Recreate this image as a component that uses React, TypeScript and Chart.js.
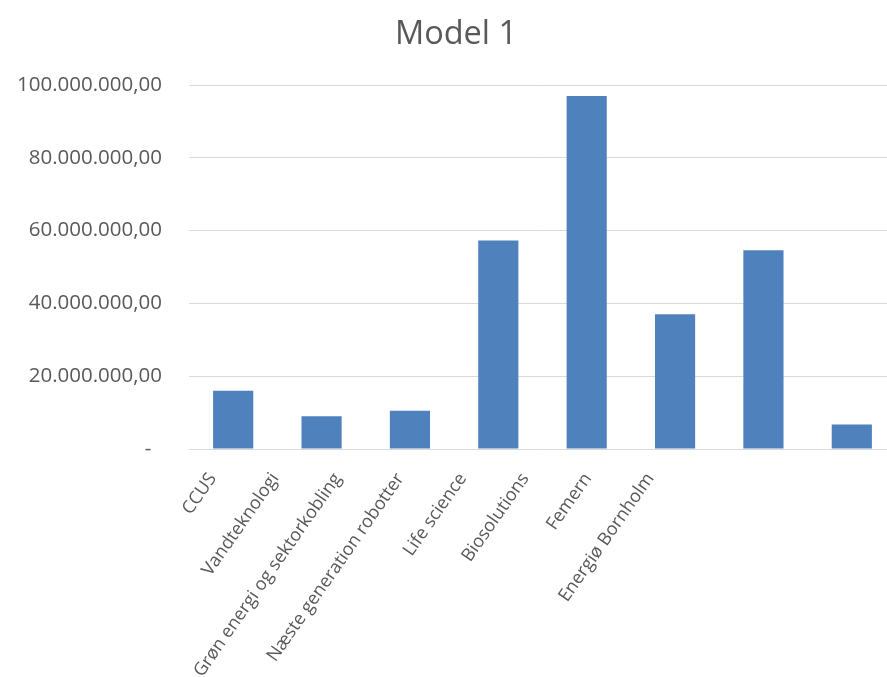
import React, { useEffect, useRef } from "react";
import { Chart, registerables } from "chart.js";

Chart.register(...registerables);

const categories: string[] = [
  "CCUS",
  "Vandteknologi",
  "Grøn energi og sektorkobling",
  "Næste generation robotter",
  "Life science",
  "Biosolutions",
  "Femern",
  "Energiø Bornholm",
];

const values: number[] = [
  16000000, 9000000, 10500000, 57300000, 97000000, 37000000, 54600000, 6700000,
];

const yMax = 100000000;
const yStep = 20000000;
const chartTitle = "Model 1";

function formatDa(v: number): string {
  if (v === 0) return "-  ";
  const int = Math.round(v).toString().replace(/\B(?=(\d{3})+(?!\d))/g, ".");
  return int + ",00";
}

const FONT = "'Open Sans', sans-serif";
const GREY = "#595959";

export default function App() {
  const ref = useRef<HTMLCanvasElement | null>(null);

  useEffect(() => {
    if (!ref.current) return;
    const chart = new Chart(ref.current, {
      type: "bar",
      data: {
        labels: categories,
        datasets: [
          {
            data: values,
            backgroundColor: "#4f81bd",
            borderWidth: 0,
            barPercentage: 0.4545,
            categoryPercentage: 1,
            xAxisID: "x",
          },
        ],
      },
      options: {
        responsive: false,
        animation: false,
        devicePixelRatio: 1,
        layout: { padding: { left: 16, right: 0, top: 0, bottom: 0 } },
        plugins: {
          legend: { display: false },
          tooltip: { enabled: false },
          title: {
            display: true,
            text: chartTitle,
            color: GREY,
            font: { family: FONT, size: 32.5, weight: "normal" },
            padding: { top: 15, bottom: 31 },
          },
        },
        scales: {
          x: {
            type: "category",
            display: false,
          },
          xl: {
            type: "linear",
            position: "bottom",
            offset: false,
            bounds: "data",
            grace: 0,
            min: -0.38,
            max: 10.93,
            grid: { display: false, drawTicks: false, offset: false },
            border: { display: false },
            afterBuildTicks: (scale: any) => {
              scale.ticks = categories.map((_, i) => ({ value: i }));
            },
            ticks: {
              color: GREY,
              font: { family: FONT, size: 18 },
              maxRotation: 55,
              minRotation: 55,
              autoSkip: false,
              padding: 20,
              callback: (v: any) => categories[Number(v)] ?? "",
            },
            afterFit: (scale: any) => {
              scale.height = 228;
            },
          },
          y: {
            min: 0,
            max: yMax,
            grid: { color: "#d9d9d9", lineWidth: 1, drawTicks: false },
            border: { display: false },
            ticks: {
              stepSize: yStep,
              color: GREY,
              font: { family: FONT, size: 20.5 },
              padding: 27,
              callback: (v: any) => formatDa(Number(v)),
            },
            afterFit: (scale: any) => {
              scale.width = 173;
            },
          },
        },
      },
    });
    return () => chart.destroy();
  }, []);

  return (
    <div
      style={{
        position: "fixed",
        left: 0,
        top: 0,
        width: 887,
        height: 677,
        overflow: "hidden",
        background: "#fff",
      }}
    >
      <canvas ref={ref} width={896} height={677} style={{ display: "block" }} />
    </div>
  );
}
